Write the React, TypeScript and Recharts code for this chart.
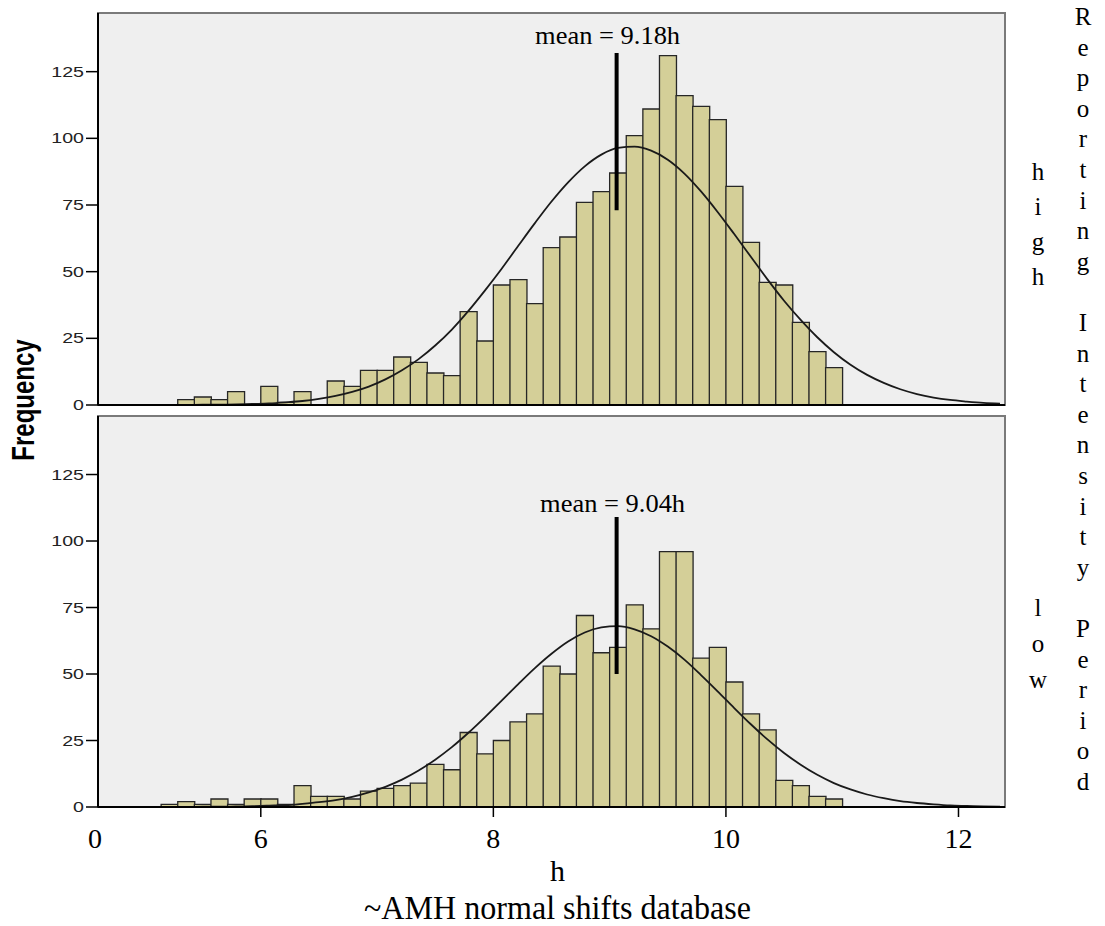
import React from 'react';
import {
  ComposedChart,
  Bar,
  Line,
  XAxis,
  YAxis,
  CartesianGrid,
  ReferenceLine,
  ReferenceArea,
} from 'recharts';

// histogram bins are 1/7 h wide, bin k covers k/7 .. (k+1)/7 h
const BIN_WIDTH = 1 / 7;
const FIRST_BIN = 32;
const binCenters = Array.from({ length: 55 }, (_, i) => (FIRST_BIN + i + 0.5) * BIN_WIDTH);

// frequencies, high reporting intensity period
const highCounts = [
  0, 0, 0, 0, 0,
  2, 3, 2, 5, 0, 7, 1, 5, 0, 9, 7, 13, 13, 18, 16, 12, 11, 35, 24,
  45, 47, 38, 59, 63, 76, 80, 87, 101, 111, 131, 116, 112, 107, 82, 61, 46, 45, 31, 20, 14,
  0, 0, 0, 0, 0, 0, 0, 0, 0, 0,
];

// frequencies, low reporting intensity period
const lowCounts = [
  0, 0, 0, 0,
  1, 2, 1, 3, 1, 3, 3, 1, 8, 4, 4, 3, 6, 7, 8, 9, 16, 14, 28, 20,
  25, 32, 35, 53, 50, 72, 58, 60, 76, 67, 96, 96, 56, 60, 47, 35, 29, 10, 8, 4, 3,
  0, 0, 0, 0, 0, 0, 0, 0, 0, 0,
];

// normal curve read at each bin centre
const highCurve = [
  0, 0, 0, 0, 0, 0, 0.1, 0.1, 0.2, 0.4,
  0.6, 1.0, 1.5, 2.3, 3.4, 4.9, 6.9, 9.6, 13.0, 17.2,
  22.3, 28.3, 35.3, 43.0, 51.1, 59.7, 68.2, 76.3, 83.5, 89.5,
  93.9, 96.4, 96.9, 95.4, 92.0, 86.8, 80.1, 72.4, 64.1, 55.6,
  47.1, 39.1, 31.9, 25.4, 19.8, 15.1, 11.3, 8.3, 5.9, 4.1,
  2.8, 1.9, 1.3, 0.8, 0.5,
];

const lowCurve = [
  0, 0, 0, 0, 0, 0, 0.1, 0.1, 0.2, 0.3,
  0.5, 0.7, 1.2, 1.8, 2.6, 3.8, 5.5, 7.6, 10.3, 13.7,
  17.8, 22.5, 27.9, 33.8, 40.0, 46.2, 52.2, 57.6, 62.2, 65.6,
  67.5, 68.0, 66.8, 64.2, 60.3, 55.4, 49.6, 43.5, 37.2, 31.1,
  25.4, 20.3, 15.9, 12.1, 9.0, 6.6, 4.7, 3.3, 2.2, 1.5,
  1.0, 0.6, 0.4, 0.2, 0.1,
];

const xTicks = [4.6, 6, 8, 10, 12];
const xTickLabels = ['0', '6', '8', '10', '12'];
const yTicks = [0, 25, 50, 75, 100, 125];

const highMean = { text: 'mean = 9.18h', x: 9.06, from: 73, to: 132 };
const lowMean = { text: 'mean = 9.04h', x: 9.06, from: 50, to: 109 };

const X_DOMAIN: [number, number] = [4.6, 12.4];
const Y_DOMAIN: [number, number] = [0, 147];

const serif = '"Liberation Serif", "Times New Roman", serif';
const sans = '"Liberation Sans", Arial, sans-serif';

const YTick = ({ x, y, payload }: any) => (
  <text
    transform={`translate(${x},${y + 5}) scale(1.4,1)`}
    textAnchor="end"
    fontFamily={sans}
    fontSize={14}
    fill="#222"
  >
    {payload.value}
  </text>
);

const XTick = ({ x, y, payload }: any) => {
  const i = xTicks.indexOf(payload.value);
  return (
    <g>
      {i > 0 && <line x1={x} x2={x} y1={y - 12} y2={y - 2} stroke="#000" strokeWidth={1.5} />}
      <text x={i === 0 ? x - 3 : x} y={y + 29} textAnchor="middle" fontFamily={serif} fontSize={28} fill="#000">
        {xTickLabels[i]}
      </text>
    </g>
  );
};

const XTitle = (props: any) => {
  const vb = props.viewBox;
  const cx = vb.x + vb.width / 2 + 6;
  return (
    <g>
      <text x={cx} y={vb.y + 74} textAnchor="middle" fontFamily={serif} fontSize={30} fill="#000">
        h
      </text>
      <text
        x={cx}
        y={vb.y + 112}
        textAnchor="middle"
        fontFamily={serif}
        fontSize={33}
        fill="#000"
        textLength={387}
        lengthAdjust="spacingAndGlyphs"
      >
        ~AMH normal shifts database
      </text>
    </g>
  );
};

const meanLabel = (text: string, dx: number, dy: number) => (props: any) => {
  const vb = props.viewBox;
  return (
    <text
      x={vb.x + dx}
      y={vb.y + dy}
      textAnchor="middle"
      fontFamily={serif}
      fontSize={25}
      fill="#000"
      textLength={145}
      lengthAdjust="spacingAndGlyphs"
    >
      {text}
    </text>
  );
};

interface PanelProps {
  counts: number[];
  curve: number[];
  mean: { text: string; x: number; from: number; to: number };
  top: number;
  height: number;
  showX: boolean;
  labelDx: number;
  labelDy: number;
}

const Panel = ({ counts, curve, mean, top, height, showX, labelDx, labelDy }: PanelProps) => {
  const data = binCenters.map((h, i) => ({ h, count: counts[i], curve: curve[i] }));
  return (
    <div style={{ position: 'absolute', left: 0, top: 0 }}>
      <ComposedChart
        width={1105}
        height={height}
        data={data}
        margin={{ top, right: 100, bottom: 0, left: 0 }}
        barCategoryGap={0}
        barGap={0}
      >
        <CartesianGrid fill="#efefef" horizontal={false} vertical={false} />
        <ReferenceArea
          x1={X_DOMAIN[0]}
          x2={X_DOMAIN[1]}
          y1={Y_DOMAIN[0]}
          y2={Y_DOMAIN[1]}
          fill="none"
          fillOpacity={0}
          stroke="#7a7a7a"
          strokeWidth={2}
        />
        {showX ? (
          <XAxis
            dataKey="h"
            type="number"
            domain={X_DOMAIN}
            allowDataOverflow
            ticks={xTicks}
            interval={0}
            height={119}
            tickSize={10}
            tickLine={false}
            axisLine={{ stroke: '#000', strokeWidth: 2 }}
            tick={<XTick />}
            label={XTitle}
          />
        ) : (
          <XAxis
            dataKey="h"
            type="number"
            domain={X_DOMAIN}
            allowDataOverflow
            height={20}
            tick={false}
            tickLine={false}
            axisLine={{ stroke: '#000', strokeWidth: 2 }}
          />
        )}
        <YAxis
          type="number"
          domain={Y_DOMAIN}
          allowDataOverflow
          ticks={yTicks}
          interval={0}
          width={98}
          tickSize={12}
          tickLine={{ stroke: '#000', strokeWidth: 1.5 }}
          axisLine={{ stroke: '#000', strokeWidth: 2 }}
          tick={<YTick />}
        />
        <Bar dataKey="count" fill="#d4cf98" stroke="#262626" strokeWidth={1.3} isAnimationActive={false} />
        <Line
          dataKey="curve"
          type="monotone"
          stroke="#1a1a1a"
          strokeWidth={1.8}
          dot={false}
          activeDot={false}
          isAnimationActive={false}
        />
        <ReferenceLine
          segment={[
            { x: mean.x, y: mean.from },
            { x: mean.x, y: mean.to },
          ]}
          stroke="#000"
          strokeWidth={4}
          label={meanLabel(mean.text, labelDx, labelDy)}
        />
      </ComposedChart>
    </div>
  );
};

const sideTitle = 'Reporting Intensity Period';
const highLabel = 'high';
const lowLabel = 'low';

const Stack = ({ text, x, y0, step }: { text: string; x: number; y0: number; step: number }) => (
  <text fontFamily={serif} fontSize={25} fill="#000" textAnchor="middle">
    {text.split('').map((ch, i) => (
      <tspan key={i} x={x} y={y0 + i * step}>
        {ch === ' ' ? '\u00a0' : ch}
      </tspan>
    ))}
  </text>
);

export default function App() {
  return (
    <div style={{ position: 'absolute', left: 0, top: 0, width: 1105, height: 926, background: '#fff' }}>
      <Panel
        counts={highCounts}
        curve={highCurve}
        mean={highMean}
        top={13}
        height={425}
        showX={false}
        labelDx={-9}
        labelDy={-9}
      />
      <Panel
        counts={lowCounts}
        curve={lowCurve}
        mean={lowMean}
        top={416}
        height={926}
        showX
        labelDx={-4}
        labelDy={-5}
      />
      <svg
        width={1105}
        height={926}
        style={{ position: 'absolute', left: 0, top: 0, pointerEvents: 'none' }}
      >
        <text
          transform="translate(34,400) scale(1.3,1) rotate(-90)"
          textAnchor="middle"
          fontFamily={sans}
          fontWeight="bold"
          fontSize={24}
          fill="#000"
        >
          Frequency
        </text>
        <Stack text={highLabel} x={1038} y0={180} step={35} />
        <Stack text={lowLabel} x={1038} y0={616} step={36} />
        <Stack text={sideTitle} x={1083} y0={25} step={30.6} />
      </svg>
    </div>
  );
}
